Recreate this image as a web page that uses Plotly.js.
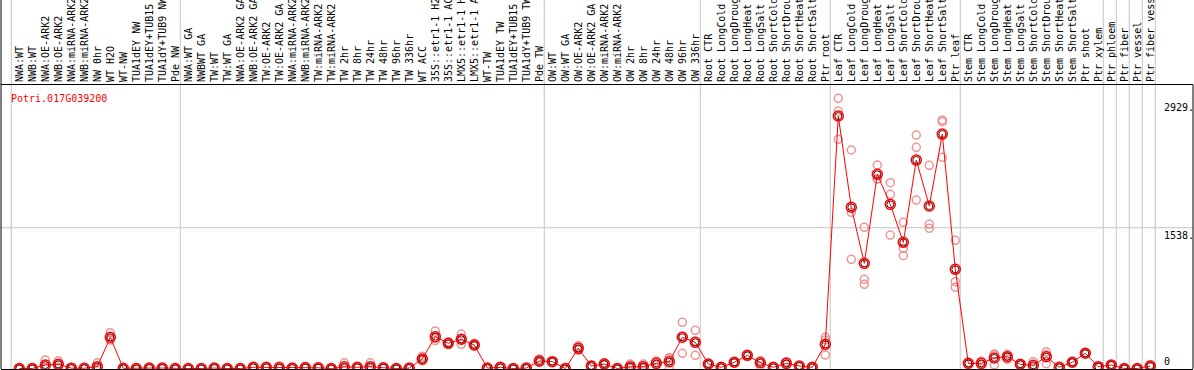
<!DOCTYPE html>
<html>
<head>
<meta charset="utf-8">
<script src="https://cdn.plot.ly/plotly-3.0.1.min.js"></script>
<style>html,body{margin:0;padding:0;background:#fff;}#chart{width:1194px;height:370px;}</style>
</head>
<body>
<div id="chart"></div>
<script>
const categories = [
 "NWA:WT","NWB:WT","NWA:OE-ARK2","NWB:OE-ARK2","NWA:miRNA-ARK2","NWB:miRNA-ARK2","NW 0hr","WT H2O","WT-NW","TUA1dEY NW","TUA1dEY+TUB15","TUA1dY+TUB9 NW","Pde NW",
 "NWA:WT GA","NWBWT GA","TW:WT","TW:WT GA","NWA:OE-ARK2 GA","NWB:OE-ARK2 GA","TW:OE-ARK2","TW:OE-ARK2 GA","NWA:miRNA-ARK2","NWB:miRNA-ARK2","TW:miRNA-ARK2","TW:miRNA-ARK2",
 "TW 2hr","TW 8hr","TW 24hr","TW 48hr","TW 96hr","TW 336hr","WT ACC","35S::etr1-1 H2","35S::etr1-1 AC","LMX5::etr1-1 H","LMX5::etr1-1 A","WT-TW","TUA1dEY TW","TUA1dEY+TUB15","TUA1dY+TUB9 TW","Pde TW",
 "OW:WT","OW:WT GA","OW:OE-ARK2","OW:OE-ARK2 GA","OW:miRNA-ARK2","OW:miRNA-ARK2","OW 2hr","OW 8hr","OW 24hr","OW 48hr","OW 96hr","OW 336hr",
 "Root CTR","Root LongCold","Root LongDroug","Root LongHeat","Root LongSalt","Root ShortCold","Root ShortDrou","Root ShortHeat","Root ShortSalt","Ptr root",
 "Leaf CTR","Leaf LongCold","Leaf LongDroug","Leaf LongHeat","Leaf LongSalt","Leaf ShortCold","Leaf ShortDrou","Leaf ShortHeat","Leaf ShortSalt","Ptr leaf",
 "Stem CTR","Stem LongCold","Stem LongDroug","Stem LongHeat","Stem LongSalt","Stem ShortCold","Stem ShortDrou","Stem ShortHeat","Stem ShortSalt","Ptr shoot","Ptr xylem",
 "Ptr phloem","Ptr fiber","Ptr vessel","Ptr fiber vess"
];
const meanValues = [
 0,0,38,46,4,3,20,341,2,0,5,5,0,
 0,0,5,0,0,13,13,10,5,10,8,0,
 18,13,20,8,0,5,104,348,275,319,257,5,13,0,5,82,
 75,0,220,27,49,0,20,20,56,75,341,286,
 49,13,68,144,63,13,56,27,13,264,
 2758,1761,1149,2121,1793,1378,2277,1775,2561,1083,
 56,56,115,129,46,35,129,13,68,166,20,
 38,0,0,27
];
const rep1 = [
 0,0,93,85,3,2,62,391,2,0,4,5,0,
 0,0,5,0,0,15,14,25,5,12,9,0,
 62,15,62,9,0,8,133,410,290,377,275,5,22,0,8,105,
 80,0,249,30,62,0,49,49,85,118,504,417,
 55,15,72,150,27,15,75,30,15,340,
 2951,2387,1542,2223,2030,1597,2550,2219,2696,1400,
 60,82,158,155,48,75,184,15,70,170,22,
 40,0,0,40
];
const rep2 = [
 0,0,15,40,5,4,0,322,1,0,6,4,0,
 0,1,6,0,0,12,12,3,6,9,7,0,
 0,12,0,7,0,4,95,330,270,316,250,6,10,0,4,75,
 73,0,212,26,45,0,8,8,45,107,353,297,
 47,12,66,142,80,12,50,26,12,310,
 2813,1706,974,2070,1903,1313,2416,1578,2714,948,
 55,45,38,132,45,15,150,12,67,165,19,
 37,0,0,22
];
const rep3 = [
 2,0,6,13,4,3,0,310,3,0,5,6,1,
 0,0,4,0,1,12,13,2,4,9,8,0,
 0,12,0,8,0,3,84,305,265,264,246,4,7,0,3,66,
 72,0,199,25,40,0,3,3,38,0,166,144,
 45,12,66,140,82,12,43,25,12,147,
 2503,1193,920,2070,1458,1232,1840,1531,2307,887,
 53,41,149,100,45,15,53,12,67,163,19,
 37,0,0,19
];
const tickValues = [2929, 1538, 0];
const tickTexts = ["2929.", "1538.", "0"];
const geneName = "Potri.017G039200";
const groupStarts = [0,13,41,53,63,73,84,85,86,87,88];

const idx = categories.map((_, i) => i);
const repX = [], repY = [];
[rep1, rep2, rep3].forEach(r => r.forEach((v, i) => { repX.push(i); repY.push(v); }));

const mono = 'DejaVu Sans Mono, monospace';
const topPaper = 1 + 85/284;

const traces = [
 {x: repX, y: repY, type: 'scatter', mode: 'markers', cliponaxis: false, hoverinfo: 'none',
  marker: {symbol: 'circle-open', size: 8, color: 'rgba(235,130,130,0.85)', line: {width: 1.5, color: 'rgba(235,130,130,0.85)'}}},
 {x: idx, y: meanValues, type: 'scatter', mode: 'lines+markers', cliponaxis: false, hoverinfo: 'none',
  line: {color: '#ff0000', width: 1},
  marker: {symbol: 'circle-open', size: 10, color: '#ff0000', line: {width: 1.5, color: '#ff0000'}}},
 {x: idx, y: meanValues, type: 'scatter', mode: 'markers', cliponaxis: false, hoverinfo: 'none',
  marker: {symbol: 'circle-open', size: 7, color: '#5a0000', line: {width: 1, color: '#5a0000'}}}
];

const shapes = [];
groupStarts.forEach(k => shapes.push({type: 'line', xref: 'x', yref: 'paper', x0: k - 0.62, x1: k - 0.62, y0: 0, y1: topPaper, line: {color: '#c4c4c4', width: 1}, layer: 'below'}));
shapes.push({type: 'line', xref: 'paper', yref: 'y', x0: 0, x1: 1, y0: tickValues[1], y1: tickValues[1], line: {color: '#c4c4c4', width: 1}, layer: 'below'});
shapes.push({type: 'line', xref: 'paper', yref: 'paper', x0: 0, x1: 0, y0: 0, y1: topPaper, line: {color: '#000', width: 1}});
shapes.push({type: 'line', xref: 'paper', yref: 'paper', x0: 1, x1: 1, y0: 0, y1: 1, line: {color: '#000', width: 1}});

const annotations = [
 {xref: 'paper', yref: 'paper', x: 9/1192, y: 1 - 13/284, xanchor: 'left', yanchor: 'middle', text: geneName, showarrow: false, font: {family: mono, size: 10, color: '#ff0000'}, borderpad: 0}
];
tickValues.forEach((v, i) => annotations.push({
 xref: 'paper', yref: 'y', x: 1162/1192, y: v, xanchor: 'left', yanchor: i === 2 ? 'bottom' : 'top',
 yshift: i === 2 ? 1 : -1, text: tickTexts[i], showarrow: false, borderpad: 0,
 font: {family: mono, size: 10, color: '#000'}}));

const layout = {
 width: 1194, height: 370,
 margin: {l: 1, r: 1, t: 85, b: 1, pad: 0},
 paper_bgcolor: '#fff', plot_bgcolor: '#fff',
 showlegend: false,
 xaxis: {range: [-1.408, 90.285], side: 'top', tickmode: 'array', tickvals: idx, ticktext: categories,
  tickangle: -90, ticks: '', showgrid: false, zeroline: false, showline: true, mirror: true,
  linecolor: '#000', linewidth: 1, automargin: false, tickfont: {family: mono, size: 10, color: '#000'}},
 yaxis: {range: [-5.5, 3097], showgrid: false, zeroline: false, showticklabels: false, ticks: '', showline: false, automargin: false},
 shapes: shapes,
 annotations: annotations
};

Plotly.newPlot('chart', traces, layout, {staticPlot: true, displayModeBar: false});
</script>
</body>
</html>
